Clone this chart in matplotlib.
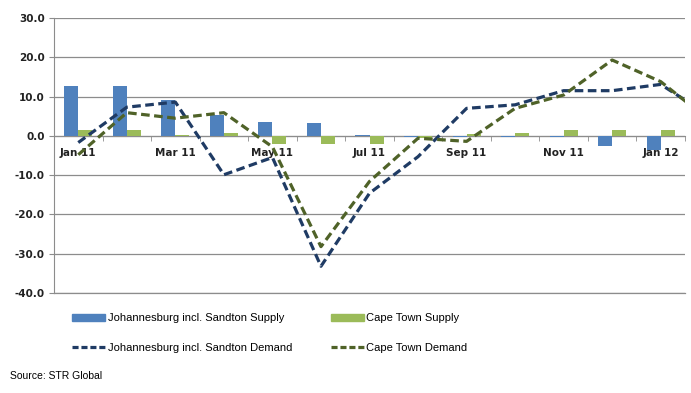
import numpy as np
import matplotlib
matplotlib.use("Agg")
import matplotlib.pyplot as plt
from matplotlib.lines import Line2D
from matplotlib.patches import Patch

months = ["Jan 11", "Feb 11", "Mar 11", "Apr 11", "May 11", "Jun 11", "Jul 11",
          "Aug 11", "Sep 11", "Oct 11", "Nov 11", "Dec 11", "Jan 12", "Feb 12"]
jhb_supply = [12.7, 12.7, 9.2, 5.4, 3.6, 3.3, 0.3, -0.3, -0.3, -0.2, -0.2, -2.7, -3.7, np.nan]
ct_supply = [1.5, 1.5, 0.3, 0.6, -2.0, -2.0, -2.0, -0.5, 0.5, 0.8, 1.5, 1.5, 1.5, np.nan]
jhb_demand = [-1.7, 7.3, 8.6, -9.9, -5.5, -33.2, -14.6, -5.3, 7.0, 7.9, 11.5, 11.5, 13.1, 5.1]
ct_demand = [-4.8, 5.9, 4.5, 5.9, -2.8, -28.2, -11.6, -0.6, -1.4, 7.0, 10.4, 19.3, 13.8, 4.0]
tick_labels = ["Jan 11", "Mar 11", "May 11", "Jul 11", "Sep 11", "Nov 11", "Jan 12"]

C_BLUE = "#4F81BD"
C_GREEN = "#9BBB59"
C_DBLUE = "#1F3B64"
C_DGREEN = "#4F6228"
GRID = "#8C8C8C"
FONT = ["Liberation Sans", "DejaVu Sans"]

fig = plt.figure(figsize=(6.91, 3.93), dpi=100)
ax = fig.add_axes([54/691, 1-293/393, (685-54)/691, (293-18)/393])

x = np.arange(len(months))
w = 0.29
ax.bar(x - w/2, jhb_supply, width=w, color=C_BLUE, zorder=2)
ax.bar(x + w/2, ct_supply, width=w, color=C_GREEN, zorder=2)
ax.plot(x, jhb_demand, color=C_DBLUE, lw=2.3, dashes=(2.7, 1.4), zorder=3)
ax.plot(x, ct_demand, color=C_DGREEN, lw=2.3, dashes=(2.7, 1.4), zorder=3)

ax.set_xlim(-0.5, 12.39)
ax.set_ylim(-40, 30)
yt = np.arange(-40, 31, 10)
ax.set_yticks(yt)
ax.set_yticklabels([f"{v:.1f}" for v in yt], fontsize=7.5, fontweight="bold", color="#222222")
ax.yaxis.grid(True, color=GRID, lw=0.9, zorder=0)
ax.axhline(-40, color=GRID, lw=0.9, clip_on=False, zorder=0)
ax.set_axisbelow(True)

for s in ["top", "right"]:
    ax.spines[s].set_visible(False)
ax.spines["left"].set_color(GRID)
ax.spines["bottom"].set_color(GRID)
ax.spines["bottom"].set_position(("data", 0))
ax.spines["bottom"].set_zorder(1)
ax.tick_params(axis="y", length=3.5, color=GRID, pad=3)

ax.set_xticks(np.arange(0, 13, 2))
ax.set_xticklabels(tick_labels, fontsize=7.5, fontweight="bold", color="#222222")
ax.set_xticks(np.arange(0.5, 13, 1), minor=True)
ax.tick_params(axis="x", which="major", length=0, pad=9)
ax.tick_params(axis="x", which="minor", length=3.5, color=GRID, direction="out")

handles = [Patch(color=C_BLUE), Line2D([], [], color=C_DBLUE, lw=2.3, dashes=(1.9, 0.9)),
           Patch(color=C_GREEN), Line2D([], [], color=C_DGREEN, lw=2.3, dashes=(1.9, 0.9))]
labels = ["Johannesburg incl. Sandton Supply", "Johannesburg incl. Sandton Demand",
          "Cape Town Supply", "Cape Town Demand"]
fig.legend(handles, labels, ncol=2, loc="center left", bbox_to_anchor=(72/691, 1-333/393),
           frameon=False, prop={"family": FONT, "size": 8},
           handlelength=3.0, handleheight=0.55, handletextpad=0.2, columnspacing=3.5,
           labelspacing=1.75, borderpad=0, borderaxespad=0)

fig.text(10/691, 1-376/393, "Source: STR Global", fontsize=7.5, family=FONT,
         va="center", ha="left")

fig.savefig("out.png", dpi=100)
